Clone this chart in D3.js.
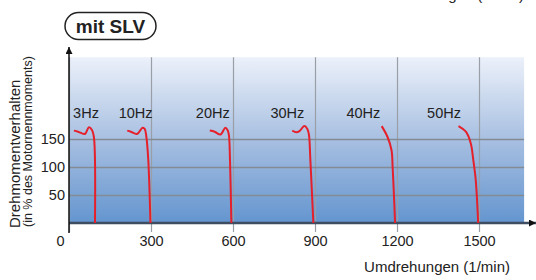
<!DOCTYPE html>
<html>
<head>
<meta charset="utf-8">
<script src="https://cdn.jsdelivr.net/npm/d3@7"></script>
<style>
  body { margin: 0; background: #fff; }
  svg { display: block; font-family: "Liberation Sans", Arial, sans-serif; }
</style>
</head>
<body>
<script>
// frequencies and their torque curves (rpm, torque in % of rated)
const freqLabels = ["3Hz", "10Hz", "20Hz", "30Hz", "40Hz", "50Hz"];
const labelRpm = [15, 182, 464, 737, 1015, 1310];
const curveRpm = [
  [18, 33, 58, 73, 84, 91, 95],
  [213, 226, 249, 269, 277, 283, 290, 298],
  [515, 533, 554, 572, 580, 585, 589, 594],
  [817, 832, 843, 861, 872, 878, 883, 894],
  [1144, 1165, 1180, 1184, 1188, 1193],
  [1425, 1452, 1470, 1479, 1488, 1497]
];
const curveTorque = [
  [165, 163, 159, 171, 166, 154, 0],
  [165, 163, 159, 170, 168, 154, 113, 0],
  [165, 163, 158, 170, 166, 157, 113, 0],
  [165, 162, 164, 173, 168, 157, 113, 0],
  [173, 154, 130, 100, 59, 0],
  [173, 163, 142, 113, 77, 0]
];
const xTicks = [0, 300, 600, 900, 1200, 1500];
const yTicks = [50, 100, 150];
const labelTorque = 187;

const w = 536, h = 280;
const x = d3.scaleLinear().domain([0, 1500]).range([69, 479]);
const y = d3.scaleLinear().domain([0, 150]).range([223, 139]);
const xMax = 1665, yMax = 296;

const svg = d3.select("body").append("svg").attr("width", w).attr("height", h);

const defs = svg.append("defs");
const grad = defs.append("linearGradient").attr("id", "bg")
  .attr("x1", 0).attr("y1", 0).attr("x2", 0).attr("y2", 1);
grad.append("stop").attr("offset", "0%").attr("stop-color", "#ecf1fa");
grad.append("stop").attr("offset", "50%").attr("stop-color", "#a7bfe1");
grad.append("stop").attr("offset", "100%").attr("stop-color", "#6495cf");

defs.append("marker").attr("id", "arrow")
  .attr("viewBox", "0 0 10 10").attr("refX", 10).attr("refY", 5)
  .attr("markerWidth", 7).attr("markerHeight", 7).attr("markerUnits", "userSpaceOnUse")
  .attr("orient", "auto")
  .append("path").attr("d", "M0,0L10,5L0,10z").attr("fill", "#111");

// cropped title of the chart above (only descenders visible, as in the source)
svg.append("text")
  .attr("x", 524).attr("y", 0)
  .attr("text-anchor", "end")
  .attr("font-size", 15).attr("fill", "#222")
  .text("Umdrehungen (1/min)");

// background
svg.append("rect")
  .attr("x", x(0)).attr("y", y(yMax))
  .attr("width", x(xMax) - x(0)).attr("height", y(0) - y(yMax))
  .attr("fill", "url(#bg)");

// vertical grid + x labels
const xAxis = d3.axisBottom(x).tickValues(xTicks).tickFormat(d3.format("d"))
  .tickSize(-(232 - y(yMax))).tickPadding(4);
const gx = svg.append("g").attr("transform", "translate(0,232)").call(xAxis);
gx.select(".domain").remove();
gx.selectAll(".tick line").attr("stroke", "#9a9ea6").attr("stroke-width", 1.2);
gx.selectAll(".tick text").attr("font-size", 14.5).attr("fill", "#222")
  .attr("font-family", "Liberation Sans, Arial, sans-serif")
  .attr("x", (d) => (d === 0 ? -9 : 0));

// horizontal grid + y labels
const yAxis = d3.axisLeft(y).tickValues(yTicks).tickFormat(d3.format("d"))
  .tickSize(-(x(xMax) - x(0))).tickPadding(4);
const gy = svg.append("g").attr("transform", `translate(${x(0)},0)`).call(yAxis);
gy.select(".domain").remove();
gy.selectAll(".tick line").attr("stroke", "#858b95").attr("stroke-width", 1.3);
gy.selectAll(".tick text").attr("font-size", 14.5).attr("fill", "#222")
  .attr("font-family", "Liberation Sans, Arial, sans-serif");

// axes lines
svg.append("line")
  .attr("x1", x(0)).attr("x2", 536).attr("y1", y(0)).attr("y2", y(0))
  .attr("stroke", "#3e4d62").attr("stroke-width", 2.5)
  .attr("marker-end", "url(#arrow)");
svg.append("line")
  .attr("x1", x(0)).attr("x2", x(0)).attr("y1", 233).attr("y2", 47)
  .attr("stroke", "#111").attr("stroke-width", 1.5)
  .attr("marker-end", "url(#arrow)");

// curves
const line = d3.line()
  .x((d) => x(d[0]))
  .y((d) => y(d[1]))
  .curve(d3.curveCatmullRom.alpha(0.5));

curveRpm.forEach((rpm, i) => {
  const pts = rpm.map((r, j) => [r, curveTorque[i][j]]);
  svg.append("path")
    .attr("d", line(pts))
    .attr("fill", "none")
    .attr("stroke", "#e5202b")
    .attr("stroke-width", 2);
});

svg.selectAll(".flabel")
  .data(freqLabels)
  .enter()
  .append("text")
  .attr("class", "flabel")
  .attr("x", (d, i) => x(labelRpm[i]))
  .attr("y", y(labelTorque))
  .attr("font-size", 14.5)
  .attr("fill", "#222")
  .text((d) => d);

// axis titles
svg.append("text")
  .attr("x", 510).attr("y", 272)
  .attr("text-anchor", "end")
  .attr("font-size", 15).attr("fill", "#222")
  .text("Umdrehungen (1/min)");

svg.append("text")
  .attr("transform", "translate(20,228) rotate(-90)")
  .attr("font-size", 15).attr("fill", "#222")
  .text("Drehmomentverhalten");
svg.append("text")
  .attr("transform", "translate(32,227) rotate(-90)")
  .attr("font-size", 12.5).attr("fill", "#222")
  .text("(in % des Motornennmoments)");

// title pill
svg.append("rect")
  .attr("x", 65).attr("y", 12.5).attr("width", 91).attr("height", 27).attr("rx", 13.5)
  .attr("fill", "#fff").attr("stroke", "#222").attr("stroke-width", 1.5);
svg.append("text")
  .attr("x", 110.5).attr("y", 33)
  .attr("text-anchor", "middle")
  .attr("font-size", 19).attr("font-weight", "bold").attr("fill", "#222")
  .text("mit SLV");
</script>
</body>
</html>
